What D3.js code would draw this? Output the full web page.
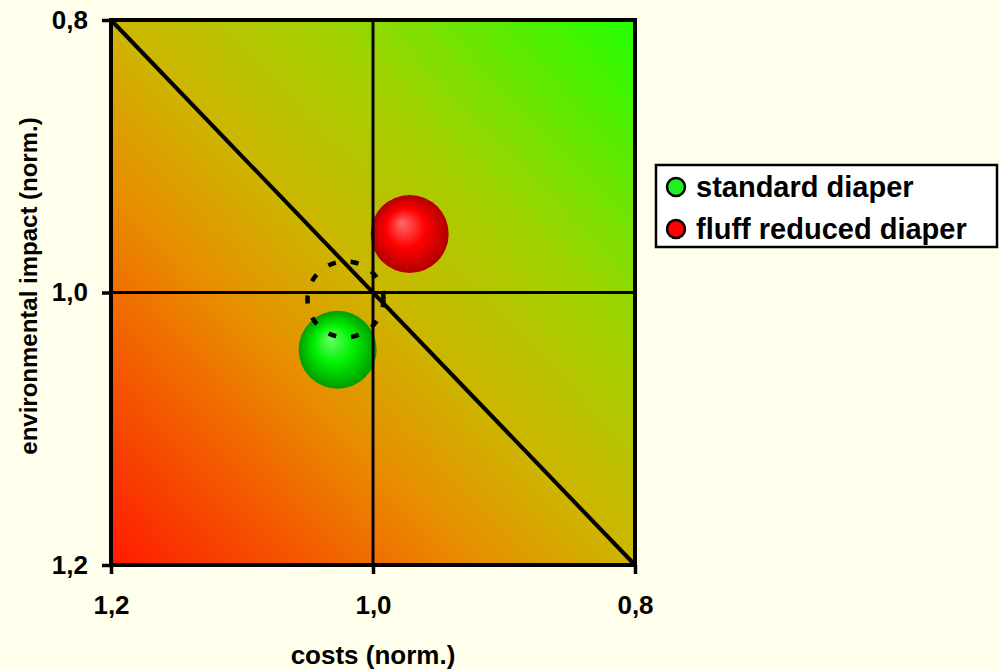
<!DOCTYPE html>
<html>
<head>
<meta charset="utf-8">
<script src="https://cdn.jsdelivr.net/npm/d3@7.9.0/dist/d3.min.js"></script>
<style>
  html, body { margin: 0; padding: 0; background: #FFFFEB; }
  svg { display: block; font-family: "Liberation Sans", Arial, sans-serif; font-weight: bold; }
</style>
</head>
<body>
<div id="chart"></div>
<script>
// data
const names = ['standard diaper', 'fluff reduced diaper'];
const costs = [1.027, 0.972];          // x, norm.
const impacts = [1.042, 0.957];        // y, norm.
const sizes = [1, 1];                  // bubble size (equal)
const bubbleColors = [['#66ff66', '#00f000', '#009c00'], ['#ff6a6a', '#ff0000', '#b00000']];
const legendColors = ['#22ee22', '#ff0000'];

// dashed reference circle (earlier position)
const refCost = [1.021];
const refImpact = [1.005];

const xTicks = [1.2, 1.0, 0.8];
const yTicks = [0.8, 1.0, 1.2];

const width = 999, height = 669;
const margin = { top: 20, right: 364, bottom: 104, left: 111 };

const svg = d3.select('#chart').append('svg')
  .attr('width', width)
  .attr('height', height);

const x = d3.scaleLinear().domain([1.2, 0.8]).range([margin.left, width - margin.right]);
const y = d3.scaleLinear().domain([0.8, 1.2]).range([margin.top, height - margin.bottom]);
const r = d3.scaleSqrt().domain([0, 1]).range([0, 39]);

const comma = d3.formatLocale({ decimal: ',', thousands: '.', grouping: [3], currency: ['', ''] }).format('.1f');

const defs = svg.append('defs');

// background gradient red (bottom-left) to green (top-right)
const bg = defs.append('linearGradient')
  .attr('id', 'bg')
  .attr('x1', 0).attr('y1', 1).attr('x2', 1).attr('y2', 0);
[[0, '#ff1a00'], [0.2, '#f35c00'], [0.35, '#e88e00'], [0.5, '#cdb500'], [0.7, '#a2d200'], [1, '#22ff00']]
  .forEach(([o, c]) => bg.append('stop').attr('offset', o).attr('stop-color', c));

// bubble shading
bubbleColors.forEach((cs, i) => {
  const g = defs.append('radialGradient')
    .attr('id', 'ball' + i)
    .attr('cx', 0.5).attr('cy', 0.5).attr('r', 0.5)
    .attr('fx', 0.4).attr('fy', 0.36);
  g.append('stop').attr('offset', 0).attr('stop-color', cs[0]);
  g.append('stop').attr('offset', 0.5).attr('stop-color', cs[1]);
  g.append('stop').attr('offset', 1).attr('stop-color', cs[2]);
});

const x0 = x.range()[0], x1 = x.range()[1];
const y0 = y.range()[0], y1 = y.range()[1];

svg.append('rect')
  .attr('x', x0).attr('y', y0)
  .attr('width', x1 - x0).attr('height', y1 - y0)
  .attr('fill', 'url(#bg)');

// bubbles
svg.append('g').selectAll('circle')
  .data(names)
  .join('circle')
  .attr('cx', (d, i) => x(costs[i]))
  .attr('cy', (d, i) => y(impacts[i]))
  .attr('r', (d, i) => r(sizes[i]))
  .attr('fill', (d, i) => `url(#ball${i})`);

// dashed circle (drawn over the bubbles)
svg.append('g').selectAll('circle')
  .data(refCost)
  .join('circle')
  .attr('cx', d => x(d))
  .attr('cy', (d, i) => y(refImpact[i]))
  .attr('r', r(1) - 1)
  .attr('fill', 'none')
  .attr('stroke', '#000')
  .attr('stroke-width', 4.5)
  .attr('stroke-dasharray', '8,15');

// cross lines at 1,0
svg.append('line')
  .attr('x1', x(1.0)).attr('x2', x(1.0))
  .attr('y1', y0).attr('y2', y1)
  .attr('stroke', '#000').attr('stroke-width', 3);
svg.append('line')
  .attr('x1', x0).attr('x2', x1)
  .attr('y1', y(1.0)).attr('y2', y(1.0))
  .attr('stroke', '#000').attr('stroke-width', 3);

// diagonal
svg.append('line')
  .attr('x1', x(1.2)).attr('y1', y(0.8))
  .attr('x2', x(0.8)).attr('y2', y(1.2))
  .attr('stroke', '#000').attr('stroke-width', 4);

// frame
svg.append('rect')
  .attr('x', x0).attr('y', y0)
  .attr('width', x1 - x0).attr('height', y1 - y0)
  .attr('fill', 'none')
  .attr('stroke', '#000').attr('stroke-width', 4);

// axes
const yAxis = svg.append('g')
  .attr('transform', `translate(${x0},0)`)
  .call(d3.axisLeft(y).tickValues(yTicks).tickSize(9).tickPadding(14).tickFormat(comma));
const xAxis = svg.append('g')
  .attr('transform', `translate(0,${y1})`)
  .call(d3.axisBottom(x).tickValues(xTicks).tickSize(9).tickPadding(22).tickFormat(comma));

[xAxis, yAxis].forEach(a => {
  a.select('.domain').remove();
  a.selectAll('.tick line').attr('stroke', '#000').attr('stroke-width', 3.5);
  a.selectAll('.tick text')
    .attr('fill', '#000')
    .style('font-size', '26px')
    .style('font-family', '"Liberation Sans", Arial, sans-serif')
    .style('font-weight', 'bold');
});

// axis titles
svg.append('text')
  .attr('x', (x0 + x1) / 2)
  .attr('y', 664)
  .attr('text-anchor', 'middle')
  .style('font-size', '26px')
  .text('costs (norm.)');

svg.append('text')
  .attr('transform', `translate(37,286) rotate(-90)`)
  .attr('text-anchor', 'middle')
  .style('font-size', '24px')
  .text('environmental impact (norm.)');

// legend
const legend = svg.append('g');
legend.append('rect')
  .attr('x', 656).attr('y', 165)
  .attr('width', 341).attr('height', 82)
  .attr('fill', '#fff')
  .attr('stroke', '#000').attr('stroke-width', 2.5);

const rows = legend.selectAll('g.row')
  .data(names)
  .join('g')
  .attr('class', 'row')
  .attr('transform', (d, i) => `translate(676,${187 + i * 42})`);
rows.append('circle')
  .attr('r', 9)
  .attr('fill', (d, i) => legendColors[i])
  .attr('stroke', '#000').attr('stroke-width', 2.5);
rows.append('text')
  .attr('x', 20)
  .attr('dy', '0.36em')
  .style('font-size', '29px')
  .text(d => d);
</script>
</body>
</html>
